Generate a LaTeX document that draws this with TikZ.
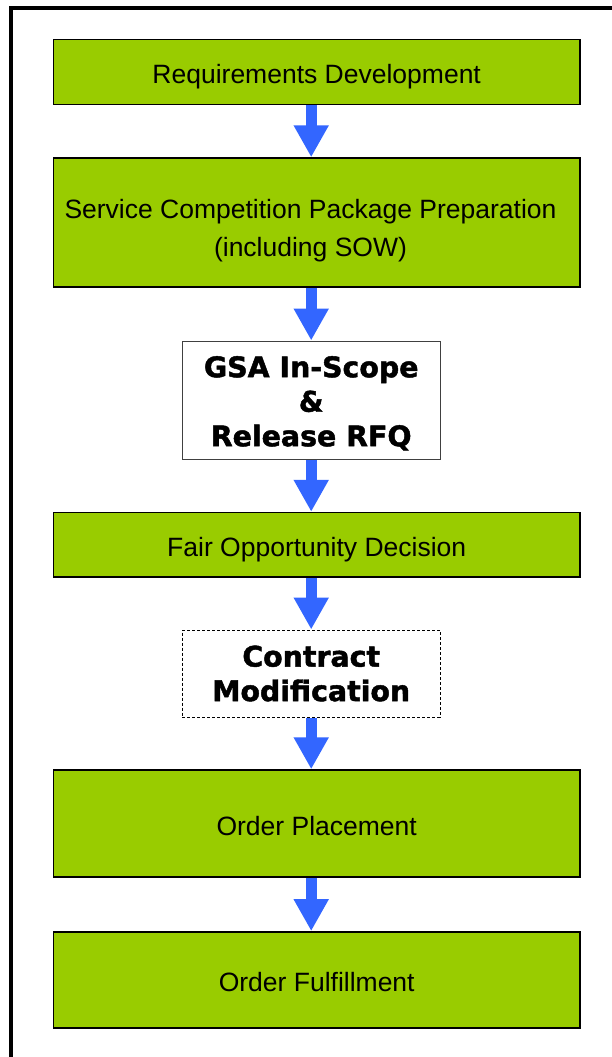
\documentclass[tikz,border=0pt]{standalone}
\usepackage{fontspec}
\setmainfont{Liberation Sans}
\newfontfamily\heavyfont{DejaVu Sans}[BoldFeatures={FakeBold=1.6}]
\usetikzlibrary{arrows.meta}
\definecolor{boxgreen}{HTML}{99CC00}
\definecolor{flowblue}{HTML}{3366FF}
\tikzset{
  greenbox/.style={draw=black, line width=1.5pt, fill=boxgreen, minimum width=526.7pt, inner sep=0pt, align=center, text height=23pt, text depth=0pt, font=\fontsize{26.5}{38}\selectfont},
  whitebox/.style={draw=black!75, line width=1pt, fill=white, minimum width=257.7pt, inner sep=0pt, align=center, font=\heavyfont\bfseries\fontsize{28.4}{34.5}\selectfont},
  dashbox/.style={whitebox, draw=black, dash pattern=on 3pt off 2pt},
  boxtext/.style={inner sep=0pt, align=center, font=\fontsize{26.5}{38}\selectfont},
  flow/.style={draw=flowblue, line width=10.7pt, line cap=butt, -{Triangle[width=33pt,length=32pt]}},
  frameline/.style={line width=4pt, line cap=butt}
}
\begin{document}
\begin{tikzpicture}[x=1pt,y=-1pt]
\useasboundingbox (0,0) rectangle (612,1057);
% outer frame (only top and left edges are visible)
\coordinate (fbl) at (11,1057);
\coordinate (ftl) at (11,8);
\coordinate (ftr) at (612,8);
\draw[frameline] (fbl) -- (ftl) -- (ftr);

\node[greenbox, minimum height=65pt] (b1) at (316.7,72) {Requirements Development};
\node[greenbox, minimum height=129pt] (b2) at (316.7,222.5) {};
\node[boxtext] (b2t) at (310.5,231) {Service Competition Package Preparation\\(including SOW)};
\node[whitebox, minimum height=118pt] (b3) at (311.2,400) {\rule{0pt}{27.6pt}GSA In-Scope\\\&\\Release RFQ};
\node[greenbox, minimum height=64.5pt] (b4) at (316.7,544.8) {Fair Opportunity Decision};
\node[dashbox, minimum height=87pt] (b5) at (311.2,673.5) {Contract\\Modification};
\node[greenbox, minimum height=107pt] (b6) at (316.7,823.5) {Order Placement};
\node[greenbox, minimum height=96.3pt] (b7) at (316.7,980) {Order Fulfillment};

\draw[flow] (b1.south -| b3.center) -- (b2.north -| b3.center);
\draw[flow] (b2.south -| b3.center) -- (b3.north);
\draw[flow] (b3.south) -- (b4.north -| b3.center);
\draw[flow] (b4.south -| b3.center) -- (b5.north);
\draw[flow] (b5.south) -- (b6.north -| b3.center);
\draw[flow] (b6.south -| b3.center) -- (b7.north -| b3.center);
\end{tikzpicture}
\end{document}
